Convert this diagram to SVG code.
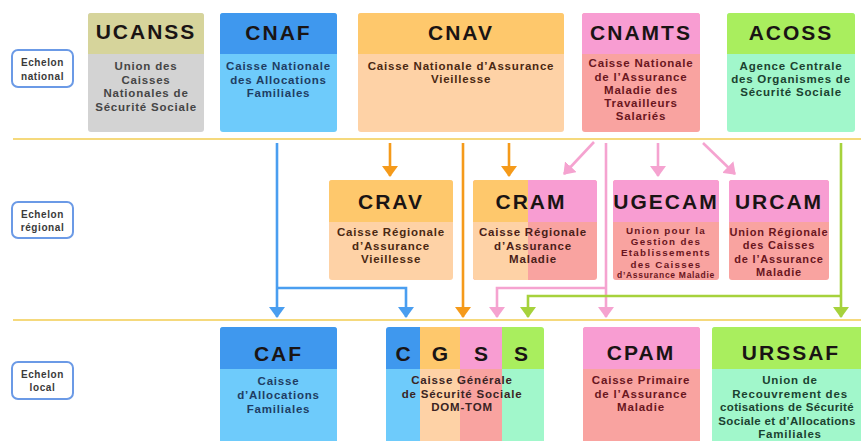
<svg xmlns="http://www.w3.org/2000/svg" width="861" height="441" viewBox="0 0 861 441">
<defs>
<style>
text{font-family:"Liberation Sans",Arial,sans-serif;font-weight:bold;text-anchor:middle}
.t{font-size:21px;letter-spacing:2px;fill:#1a1414}
.b{font-size:11.5px;letter-spacing:0.8px}
.s{font-size:11px;letter-spacing:0.8px}
.u{font-size:9.8px;letter-spacing:1.3px}
.xs{font-size:8.5px;letter-spacing:0.7px}
.e{font-size:10px;letter-spacing:0.6px;fill:#3a3a3a}
.lbl{fill:#fff;stroke:#6b9ae6;stroke-width:2}
.sep{stroke:#f5d97c;stroke-width:2;fill:none}
.ln{fill:none;stroke-width:2.6}
.blue{stroke:#4a9ef0}.orange{stroke:#f59a1a}.pink{stroke:#f5a3d0}.green{stroke:#a6d23c}
</style>
<marker id="ab" viewBox="0 -8 11 16" refX="10" refY="0" markerWidth="11" markerHeight="16" markerUnits="userSpaceOnUse" orient="auto"><path d="M0,-8 L11,0 L0,8 z" fill="#4a9ef0"/></marker>
<marker id="ao" viewBox="0 -8 11 16" refX="10" refY="0" markerWidth="11" markerHeight="16" markerUnits="userSpaceOnUse" orient="auto"><path d="M0,-8 L11,0 L0,8 z" fill="#f59a1a"/></marker>
<marker id="ap" viewBox="0 -8 11 16" refX="10" refY="0" markerWidth="11" markerHeight="16" markerUnits="userSpaceOnUse" orient="auto"><path d="M0,-8 L11,0 L0,8 z" fill="#f5a3d0"/></marker>
<marker id="ag" viewBox="0 -8 11 16" refX="10" refY="0" markerWidth="11" markerHeight="16" markerUnits="userSpaceOnUse" orient="auto"><path d="M0,-8 L11,0 L0,8 z" fill="#a6d23c"/></marker>
</defs>
<rect width="861" height="441" fill="#fff"/>

<g id="separators">
<line class="sep" x1="13" y1="139" x2="861" y2="139"/>
<line class="sep" x1="13" y1="320" x2="861" y2="320"/>
</g>

<g id="echelon-national"><rect class="lbl" x="12" y="50" width="61" height="37" rx="6"/><text class="e" x="42.5" y="66">Echelon</text><text class="e" x="42.5" y="80">national</text></g>
<g id="echelon-regional"><rect class="lbl" x="12" y="202" width="61" height="36" rx="6"/><text class="e" x="42.5" y="218">Echelon</text><text class="e" x="42.5" y="231">régional</text></g>
<g id="echelon-local"><rect class="lbl" x="12" y="362" width="61" height="37" rx="6"/><text class="e" x="42.5" y="378">Echelon</text><text class="e" x="42.5" y="391">local</text></g>

<g id="ucanss">
<rect x="88" y="13" width="116" height="119" rx="3" fill="#d3d3d3"/>
<path d="M88,54 V16 a3,3 0 0 1 3,-3 H201 a3,3 0 0 1 3,3 V54 z" fill="#d6d49b"/>
<text class="t" x="146" y="39">UCANSS</text>
<g class="b" fill="#454545"><text x="146" y="70">Union des</text><text x="146" y="83.5">Caisses</text><text x="146" y="97">Nationales de</text><text x="146" y="110.5">Sécurité Sociale</text></g>
</g>

<g id="cnaf">
<rect x="220" y="13" width="117" height="119" rx="3" fill="#6ecbfb"/>
<path d="M220,54 V16 a3,3 0 0 1 3,-3 H334 a3,3 0 0 1 3,3 V54 z" fill="#3f98ee"/>
<text class="t" x="278.5" y="40">CNAF</text>
<g class="b" fill="#1e3d63"><text x="278.5" y="70">Caisse Nationale</text><text x="278.5" y="83.5">des Allocations</text><text x="278.5" y="97">Familiales</text></g>
</g>

<g id="cnav">
<rect x="358" y="13" width="206" height="119" rx="3" fill="#fed2a6"/>
<path d="M358,54 V16 a3,3 0 0 1 3,-3 H561 a3,3 0 0 1 3,3 V54 z" fill="#fec86c"/>
<text class="t" x="461" y="40">CNAV</text>
<g class="b" fill="#4a2812"><text x="461" y="70">Caisse Nationale d’Assurance</text><text x="461" y="83">Vieillesse</text></g>
</g>

<g id="cnamts">
<rect x="582" y="13" width="118" height="119" rx="3" fill="#f9a3a0"/>
<path d="M582,54 V16 a3,3 0 0 1 3,-3 H697 a3,3 0 0 1 3,3 V54 z" fill="#f89dd2"/>
<text class="t" x="641" y="40">CNAMTS</text>
<g class="b" fill="#6a1620"><text x="641" y="67">Caisse Nationale</text><text x="641" y="80.5">de l’Assurance</text><text x="641" y="94">Maladie des</text><text x="641" y="107">Travailleurs</text><text x="641" y="120">Salariés</text></g>
</g>

<g id="acoss">
<rect x="727" y="13" width="128" height="119" rx="3" fill="#a1f7cb"/>
<path d="M727,54 V16 a3,3 0 0 1 3,-3 H852 a3,3 0 0 1 3,3 V54 z" fill="#a9ee5e"/>
<text class="t" x="791" y="40">ACOSS</text>
<g class="b" fill="#1b4230"><text x="791" y="70">Agence Centrale</text><text x="791" y="83">des Organismes de</text><text x="791" y="96">Sécurité Sociale</text></g>
</g>

<g id="crav">
<rect x="329" y="180" width="124" height="100" rx="3" fill="#fed2a6"/>
<path d="M329,222 V183 a3,3 0 0 1 3,-3 H450 a3,3 0 0 1 3,3 V222 z" fill="#fec86c"/>
<text class="t" x="391" y="209">CRAV</text>
<g class="b" fill="#4a2812"><text x="391" y="236">Caisse Régionale</text><text x="391" y="249.5">d’Assurance</text><text x="391" y="263">Vieillesse</text></g>
</g>

<g id="cram">
<rect x="473" y="180" width="124" height="100" rx="3" fill="#f9a3a0"/>
<path d="M528,280 H476 a3,3 0 0 1 -3,-3 V222 H528 z" fill="#fed2a6"/>
<path d="M473,222 V183 a3,3 0 0 1 3,-3 H528 V222 z" fill="#fec86c"/>
<path d="M528,222 V180 H594 a3,3 0 0 1 3,3 V222 z" fill="#f89dd2"/>
<text class="t" x="531" y="209">CRAM</text>
<g class="b" fill="#4a1e18"><text x="533" y="236">Caisse Régionale</text><text x="533" y="249.5">d’Assurance</text><text x="533" y="263">Maladie</text></g>
</g>

<g id="ugecam">
<rect x="613" y="180" width="106" height="100" rx="3" fill="#f9a3a0"/>
<path d="M613,222 V183 a3,3 0 0 1 3,-3 H716 a3,3 0 0 1 3,3 V222 z" fill="#f89dd2"/>
<text class="t" x="666" y="209">UGECAM</text>
<g fill="#6a1620"><text class="u" x="666" y="234">Union pour la</text><text class="u" x="666" y="245.2">Gestion des</text><text class="u" x="666" y="256.4">Etablissements</text><text class="u" x="666" y="267.6">des Caisses</text><text class="xs" x="666" y="277.6">d’Assurance Maladie</text></g>
</g>

<g id="urcam">
<rect x="729" y="180" width="100" height="100" rx="3" fill="#f9a3a0"/>
<path d="M729,222 V183 a3,3 0 0 1 3,-3 H826 a3,3 0 0 1 3,3 V222 z" fill="#f89dd2"/>
<text class="t" x="779" y="209">URCAM</text>
<g class="s" fill="#6a1620"><text x="779" y="235.5">Union Régionale</text><text x="779" y="249">des Caisses</text><text x="779" y="262.5">de l’Assurance</text><text x="779" y="276">Maladie</text></g>
</g>

<g id="caf">
<rect x="220" y="327" width="117" height="130" rx="3" fill="#6ecbfb"/>
<path d="M220,369 V330 a3,3 0 0 1 3,-3 H334 a3,3 0 0 1 3,3 V369 z" fill="#3f98ee"/>
<text class="t" x="278.5" y="361">CAF</text>
<g class="b" fill="#1e3d63"><text x="278.5" y="385">Caisse</text><text x="278.5" y="399">d’Allocations</text><text x="278.5" y="413">Familiales</text></g>
</g>

<g id="cgss">
<rect x="386" y="369" width="34" height="90" fill="#6ecbfb"/>
<rect x="420" y="369" width="40" height="90" fill="#fed2a6"/>
<rect x="460" y="369" width="42" height="90" fill="#f9a3a0"/>
<rect x="502" y="369" width="42" height="90" fill="#a1f7cb"/>
<path d="M386,369 V330 a3,3 0 0 1 3,-3 H420 V369 z" fill="#3f98ee"/>
<rect x="420" y="327" width="40" height="42" fill="#fec86c"/>
<rect x="460" y="327" width="42" height="42" fill="#f89dd2"/>
<path d="M502,327 H541 a3,3 0 0 1 3,3 V369 H502 z" fill="#a9ee5e"/>
<text class="t" x="403" y="361" style="letter-spacing:0">C</text>
<text class="t" x="440" y="361" style="letter-spacing:0">G</text>
<text class="t" x="481" y="361" style="letter-spacing:0">S</text>
<text class="t" x="521" y="361" style="letter-spacing:0">S</text>
<g class="b" fill="#3a2424"><text x="462" y="384">Caisse Générale</text><text x="462" y="397.5">de Sécurité Sociale</text><text x="462" y="411">DOM-TOM</text></g>
</g>

<g id="cpam">
<rect x="583" y="327" width="117" height="130" rx="3" fill="#f9a3a0"/>
<path d="M583,369 V330 a3,3 0 0 1 3,-3 H697 a3,3 0 0 1 3,3 V369 z" fill="#f89dd2"/>
<text class="t" x="641" y="360">CPAM</text>
<g class="b" fill="#6a1620"><text x="641" y="384">Caisse Primaire</text><text x="641" y="397.5">de l’Assurance</text><text x="641" y="411">Maladie</text></g>
</g>

<g id="urssaf">
<rect x="712" y="327" width="160" height="130" rx="3" fill="#a1f7cb"/>
<path d="M712,369 V330 a3,3 0 0 1 3,-3 H872 V369 z" fill="#a9ee5e"/>
<text class="t" x="791" y="360">URSSAF</text>
<g class="b" fill="#1b4230"><text x="790" y="384">Union de</text><text x="790" y="397.5">Recouvrement des</text><text x="787" y="411" style="letter-spacing:0.35px">cotisations de Sécurité</text><text x="787" y="424.5" style="letter-spacing:0.35px">Sociale et d’Allocations</text><text x="790" y="438">Familiales</text></g>
</g>

<g id="connectors">
<path class="ln blue" d="M277,143 V317" marker-end="url(#ab)"/>
<path class="ln blue" d="M277,288 H406 V317" marker-end="url(#ab)"/>
<path class="ln orange" d="M390,143 V176" marker-end="url(#ao)"/>
<path class="ln orange" d="M509,143 V176" marker-end="url(#ao)"/>
<path class="ln orange" d="M463,143 V317" marker-end="url(#ao)"/>
<path class="ln pink" d="M594,142 L564,174" marker-end="url(#ap)"/>
<path class="ln pink" d="M658,143 V176" marker-end="url(#ap)"/>
<path class="ln pink" d="M703,143 L735,174" marker-end="url(#ap)"/>
<path class="ln pink" d="M606,143 V317" marker-end="url(#ap)"/>
<path class="ln pink" d="M606,288 H497 V317" marker-end="url(#ap)"/>
<path class="ln green" d="M841,143 V317" marker-end="url(#ag)"/>
<path class="ln green" d="M841,296 H528 V317" marker-end="url(#ag)"/>
</g>
</svg>
